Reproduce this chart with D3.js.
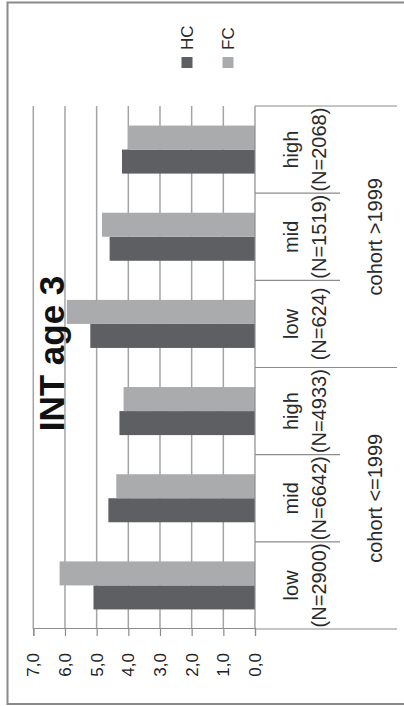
<!DOCTYPE html>
<html>
<head>
<meta charset="utf-8">
<script src="https://cdn.jsdelivr.net/npm/d3@7"></script>
<style>
  html, body { margin: 0; padding: 0; background: #fff; }
  svg { display: block; font-family: "Liberation Sans", Arial, sans-serif; }
</style>
</head>
<body>
<svg id="chart" width="404" height="706"></svg>
<script>
// Mean INT scores at age 3 by income level and birth cohort
const levels  = ["low", "mid", "high", "low", "mid", "high"];
const counts  = ["(N=2900)", "(N=6642)", "(N=4933)", "(N=624)", "(N=1519)", "(N=2068)"];
const cohorts = ["cohort <=1999", "cohort >1999"];
const seriesNames = ["HC", "FC"];
const hcValues = [5.10, 4.63, 4.28, 5.20, 4.59, 4.20];
const fcValues = [6.17, 4.38, 4.15, 5.94, 4.83, 4.01];
const tickValues = [0, 1, 2, 3, 4, 5, 6, 7];
const colors = { HC: "#5e5f63", FC: "#aaabad" };

const W = 404, H = 706;
const svg = d3.select("#chart");

// outer frame
svg.append("rect")
  .attr("x", 7.5).attr("y", 2.5)
  .attr("width", W + 10).attr("height", H - 4.5)
  .attr("fill", "none").attr("stroke", "#8a8a8a").attr("stroke-width", 2);

// The chart is laid out as an ordinary column chart and turned a quarter turn
// counter-clockwise: local x runs bottom→top on screen, local y runs left→right.
const g = svg.append("g").attr("transform", `translate(0,${H}) rotate(-90)`);

const plotLeft = 77, plotRight = 600, plotTop = 33.3, plotBottom = 255;

const x = d3.scaleBand()
  .domain(d3.range(levels.length))
  .range([plotLeft, plotRight])
  .paddingInner(0.449)
  .paddingOuter(0.2245);

const xs = d3.scaleBand().domain(seriesNames).range([0, x.bandwidth()]).padding(0);

const y = d3.scaleLinear().domain([0, 7]).range([plotBottom, plotTop]);

// gridlines
g.append("g").selectAll("line")
  .data(tickValues.filter(v => v > 0))
  .join("line")
  .attr("x1", plotLeft).attr("x2", plotRight)
  .attr("y1", d => y(d)).attr("y2", d => y(d))
  .attr("stroke", "#a4a4a4").attr("stroke-width", 1.5);

// bars
const rows = levels.map((l, i) => ({ i, HC: hcValues[i], FC: fcValues[i] }));
g.append("g").selectAll("g")
  .data(rows)
  .join("g")
  .attr("transform", d => `translate(${x(d.i)},0)`)
  .selectAll("rect")
  .data(d => seriesNames.map(s => ({ s, v: d[s] })))
  .join("rect")
  .attr("x", d => xs(d.s))
  .attr("width", xs.bandwidth())
  .attr("y", d => y(d.v))
  .attr("height", d => y(0) - y(d.v))
  .attr("fill", d => colors[d.s]);

// value axis
const yAxis = g.append("g")
  .attr("transform", `translate(${plotLeft},0)`)
  .call(d3.axisLeft(y)
    .tickValues(tickValues)
    .tickSize(7)
    .tickPadding(17)
    .tickFormat(d => d.toFixed(1).replace(".", ",")));
yAxis.select(".domain").attr("stroke", "#8c8c8c").attr("stroke-width", 1.2);
yAxis.selectAll(".tick line").attr("stroke", "#8c8c8c").attr("stroke-width", 1.2);
yAxis.selectAll(".tick text")
  .attr("fill", "#222").attr("font-size", 17)
  .attr("font-family", "'Liberation Sans', Arial, sans-serif");

// category axis with two-level grouping
const step = x.step();
const catAxis = g.append("g").attr("stroke", "#8c8c8c").attr("stroke-width", 1.2);
catAxis.append("line")
  .attr("x1", plotLeft).attr("x2", plotRight)
  .attr("y1", plotBottom).attr("y2", plotBottom);
d3.range(levels.length + 1).forEach(k => {
  const isGroupEdge = k % 3 === 0;
  catAxis.append("line")
    .attr("x1", plotLeft + k * step).attr("x2", plotLeft + k * step)
    .attr("y1", plotBottom).attr("y2", isGroupEdge ? 397 : 340);
});

const labels = g.append("g")
  .attr("font-size", 20).attr("fill", "#2a2a2a").attr("text-anchor", "middle");
labels.selectAll("text.level")
  .data(levels).join("text").attr("class", "level")
  .attr("x", (d, i) => x(i) + x.bandwidth() / 2).attr("y", 298)
  .text(d => d);
labels.selectAll("text.count")
  .data(counts).join("text").attr("class", "count")
  .attr("x", (d, i) => x(i) + x.bandwidth() / 2).attr("y", 326)
  .text(d => d);
labels.selectAll("text.cohort")
  .data(cohorts).join("text").attr("class", "cohort")
  .attr("x", (d, i) => plotLeft + (i * 3 + 1.5) * step).attr("y", 382)
  .text(d => d);

// title
g.append("text")
  .attr("x", 352.5).attr("y", 64)
  .attr("text-anchor", "middle")
  .attr("font-size", 35).attr("font-weight", "bold").attr("fill", "#111")
  .text("INT age 3");

// legend
const legend = g.append("g").attr("transform", "translate(638,0)");
const legendY = { HC: 187, FC: 228 };
seriesNames.forEach(s => {
  legend.append("rect")
    .attr("x", 0).attr("y", legendY[s] - 5.5)
    .attr("width", 11).attr("height", 11)
    .attr("fill", colors[s]);
  legend.append("text")
    .attr("x", 18).attr("y", legendY[s])
    .attr("dy", "0.36em")
    .attr("font-size", 17).attr("fill", "#2a2a2a")
    .text(s);
});
</script>
</body>
</html>
